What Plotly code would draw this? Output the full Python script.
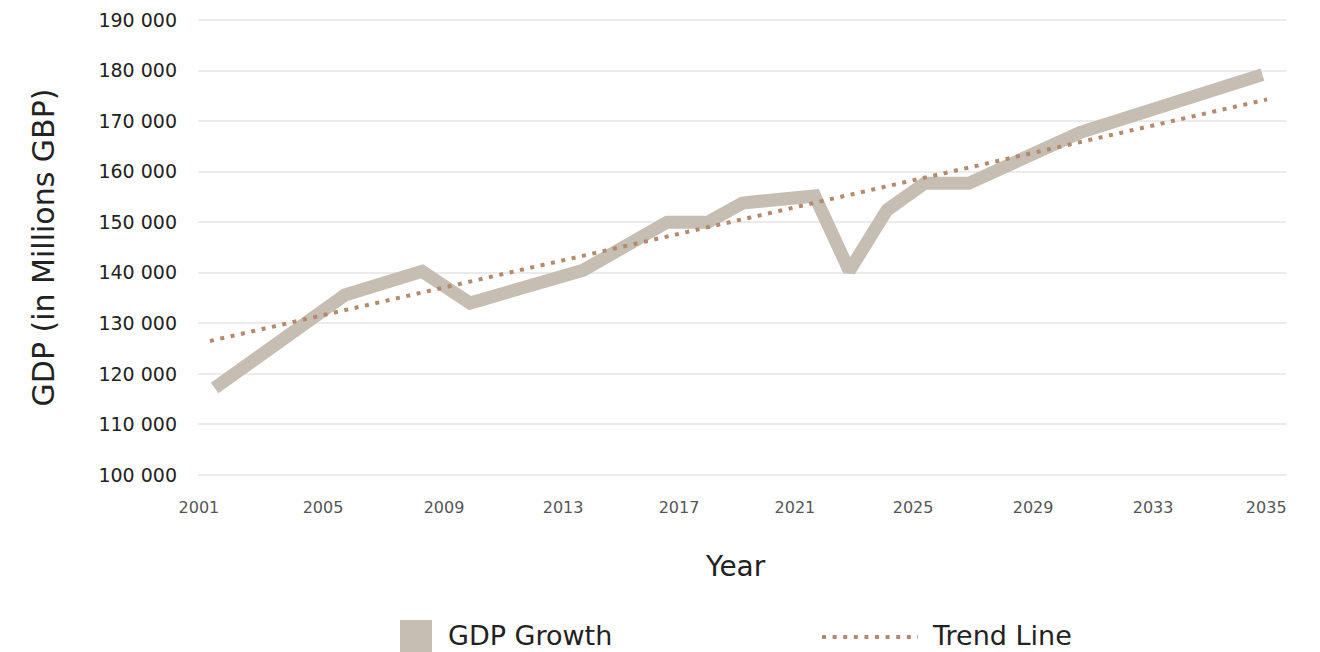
import plotly.graph_objects as go

# ---- data ----
years = [2001.5, 2005.65, 2008.1, 2009.63, 2013.23, 2015.9, 2017.2, 2018.3,
         2020.6, 2021.7, 2022.9, 2024.1, 2025.5, 2029.06, 2034.85]
gdp = [117200, 135600, 140300, 134000, 140500, 150000, 150000, 153800,
       155200, 140400, 152400, 157700, 157700, 167800, 179200]

trend_years = [2001.35, 2035.0]
trend_values = [126500, 174300]

# the reference axis places its labels unevenly; positions on the same scale as `years`
x_tick_labels = ["2001", "2005", "2009", "2013", "2017", "2021", "2025", "2029", "2033", "2035"]
x_tick_pos = [2001.0, 2004.95, 2008.8, 2012.59, 2016.28, 2019.97, 2023.73, 2027.55, 2031.37, 2034.97]
y_ticks = [100000, 110000, 120000, 130000, 140000, 150000, 160000, 170000, 180000, 190000]

series_names = ["GDP Growth", "Trend Line"]

GDP_COLOR = "#C6BEB3"
TREND_COLOR = "#B38A6D"
FONT = "DejaVu Sans"

# the page adds an 8px body margin, so the figure is drawn from (8, 8)
OFF = 8
W, H = 1320 - OFF, 652 - OFF
ML, MT = 198 - OFF, 19 - OFF
PW, PH = 1088, 457
MR, MB = W - ML - PW, H - MT - PH
Y0, Y1 = 99800, 190200


def px_x(px):
    return (px - OFF - ML) / PW


def px_y(py):
    return (MT + PH - (py - OFF)) / PH


fig = go.Figure()
fig.add_trace(go.Scatter(
    x=years, y=gdp, mode="lines", name=series_names[0],
    line=dict(color=GDP_COLOR, width=13), showlegend=False,
))
fig.add_trace(go.Scatter(
    x=trend_years, y=trend_values, mode="lines", name=series_names[1],
    line=dict(color=TREND_COLOR, width=4, dash="4px,6.6px"), showlegend=False,
))

# manual legend (large square swatch like the reference)
shapes = [
    dict(type="rect", xref="paper", yref="paper",
         x0=px_x(400), x1=px_x(432), y0=px_y(652), y1=px_y(620),
         fillcolor=GDP_COLOR, line=dict(width=0)),
    dict(type="line", xref="paper", yref="paper",
         x0=px_x(822), x1=px_x(918), y0=px_y(637), y1=px_y(637),
         line=dict(color=TREND_COLOR, width=4, dash="4px,6.6px")),
]
annotations = [
    dict(text=series_names[0], xref="paper", yref="paper", x=px_x(446), y=px_y(635),
         xanchor="left", yanchor="middle", showarrow=False,
         font=dict(family=FONT, size=27, color="#222222")),
    dict(text=series_names[1], xref="paper", yref="paper", x=px_x(930), y=px_y(635),
         xanchor="left", yanchor="middle", showarrow=False,
         font=dict(family=FONT, size=27, color="#222222")),
    dict(text="Year", xref="paper", yref="paper", x=px_x(735), y=px_y(566),
         xanchor="center", yanchor="middle", showarrow=False,
         font=dict(family=FONT, size=28, color="#222222")),
]

fig.update_layout(
    width=W, height=H,
    margin=dict(l=ML, r=MR, t=MT, b=MB, autoexpand=False),
    paper_bgcolor="white", plot_bgcolor="white",
    separators=". ",
    font=dict(family=FONT, color="#222222"),
    shapes=shapes, annotations=annotations,
    showlegend=False,
    xaxis=dict(
        range=[2000.97, 2035.6], tickmode="array", tickvals=x_tick_pos,
        ticktext=x_tick_labels,
        showgrid=False, zeroline=False, showline=False,
        tickfont=dict(family=FONT, size=16, color="#555555"),
        ticklabelstandoff=20,
        automargin=False,
    ),
    yaxis=dict(
        range=[Y0, Y1], tickmode="array", tickvals=y_ticks,
        tickformat=",d",
        showgrid=True, gridcolor="#EBEBEB", gridwidth=2,
        zeroline=False, showline=False,
        tickfont=dict(family=FONT, size=19, color="#222222"),
        ticklabelstandoff=20,
        title=dict(text="GDP (in Millions GBP)", font=dict(family=FONT, size=30, color="#222222"), standoff=34),
        automargin=False,
    ),
)

fig.write_html("out.html")
